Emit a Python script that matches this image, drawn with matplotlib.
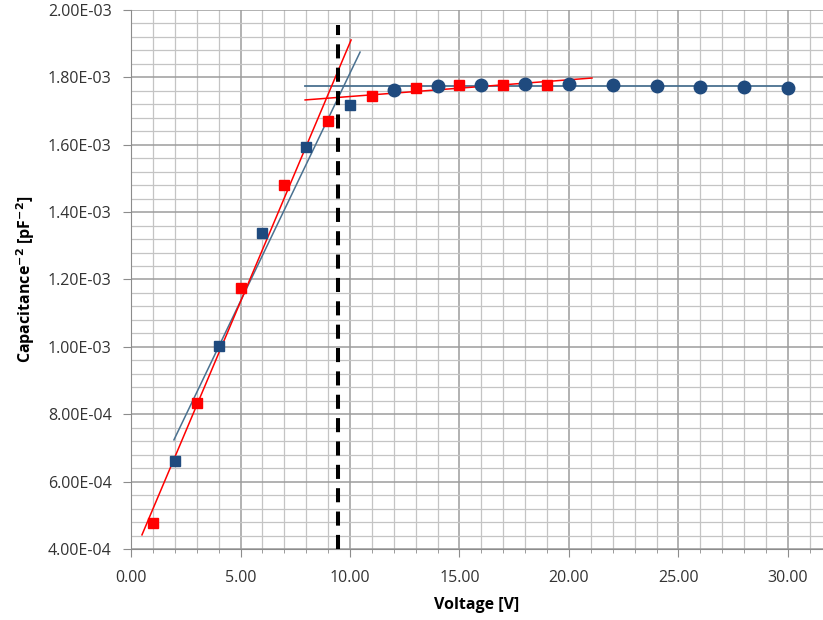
import matplotlib.pyplot as plt
from matplotlib.ticker import MultipleLocator, FuncFormatter

red_x = [1, 3, 5, 7, 9, 11, 13, 15, 17, 19]
red_y = [4.78e-4, 8.34e-4, 1.175e-3, 1.481e-3, 1.671e-3,
         1.745e-3, 1.768e-3, 1.776e-3, 1.777e-3, 1.777e-3]

blue_sq_x = [2, 4, 6, 8, 10]
blue_sq_y = [6.62e-4, 1.003e-3, 1.338e-3, 1.593e-3, 1.718e-3]

blue_ci_x = [12, 14, 16, 18, 20, 22, 24, 26, 28, 30]
blue_ci_y = [1.762e-3, 1.775e-3, 1.778e-3, 1.780e-3, 1.780e-3,
             1.778e-3, 1.775e-3, 1.772e-3, 1.772e-3, 1.769e-3]

# trend lines (end points)
red_rise_x = [0.5, 10.05]
red_rise_y = [4.42e-4, 1.911e-3]
blue_rise_x = [1.96, 10.46]
blue_rise_y = [7.24e-4, 1.875e-3]
red_flat_x = [7.95, 21.05]
red_flat_y = [1.733e-3, 1.798e-3]
blue_flat_x = [7.95, 30.0]
blue_flat_y = [1.773e-3, 1.773e-3]

v_dep = 9.45

plt.rcParams['font.family'] = ['Open Sans', 'DejaVu Sans']

fig = plt.figure(figsize=(8.23, 6.2), dpi=100)
ax = fig.add_axes([0.1592, 0.1145, 0.8408, 0.8694])

navy = '#1f4a7e'
red = '#ff0000'
line_blue = '#4a7190'

ax.plot(blue_flat_x, blue_flat_y, color=line_blue, lw=1.3, zorder=3)
ax.plot(red_flat_x, red_flat_y, color=red, lw=1.1, zorder=3)
ax.plot(blue_rise_x, blue_rise_y, color=line_blue, lw=1.1, zorder=3)
ax.plot(red_rise_x, red_rise_y, color=red, lw=1.1, zorder=3)

ax.plot(red_x, red_y, 's', color=red, ms=7.5, zorder=4)
ax.plot(blue_sq_x, blue_sq_y, 's', color=navy, ms=7.5, zorder=5)
ax.plot(blue_ci_x, blue_ci_y, 'o', color=navy, ms=9, zorder=5)

ax.plot([v_dep, v_dep], [4e-4, 1.955e-3], color='black', lw=2.9,
        linestyle=(0, (3.5, 2.3)), zorder=6)

ax.set_xlim(0, 31.6)
ax.set_ylim(4e-4, 2e-3)

ax.xaxis.set_major_locator(MultipleLocator(5))
ax.xaxis.set_minor_locator(MultipleLocator(1))
ax.yaxis.set_major_locator(MultipleLocator(2e-4))
ax.yaxis.set_minor_locator(MultipleLocator(4e-5))
ax.xaxis.set_major_formatter(FuncFormatter(lambda v, p: f"{v:.2f}"))
ax.yaxis.set_major_formatter(FuncFormatter(lambda v, p: f"{v:.2E}"))

ax.grid(which='major', color='#9c9c9c', lw=1.1)
ax.grid(which='minor', color='#c4c4c4', lw=0.9)
ax.set_axisbelow(True)

ax.tick_params(which='major', length=6, color='#8c8c8c', labelsize=11.5,
               labelcolor='#333333')
ax.tick_params(axis='x', which='minor', length=3, color='#8c8c8c')
ax.tick_params(axis='y', which='minor', length=0)
ax.tick_params(axis='x', pad=9)
ax.tick_params(axis='y', pad=8)

for s in ['top', 'right']:
    ax.spines[s].set_visible(False)
for s in ['left', 'bottom']:
    ax.spines[s].set_color('#8c8c8c')

ax.set_xlabel('Voltage [V]', fontsize=11.5, fontweight='bold', labelpad=8)
ax.set_ylabel(r'Capacitance$^{\mathbf{-2}}$ [pF$^{\mathbf{-2}}$]', fontsize=11.5,
              fontweight='bold', labelpad=8)

fig.savefig('out.png', dpi=100)
